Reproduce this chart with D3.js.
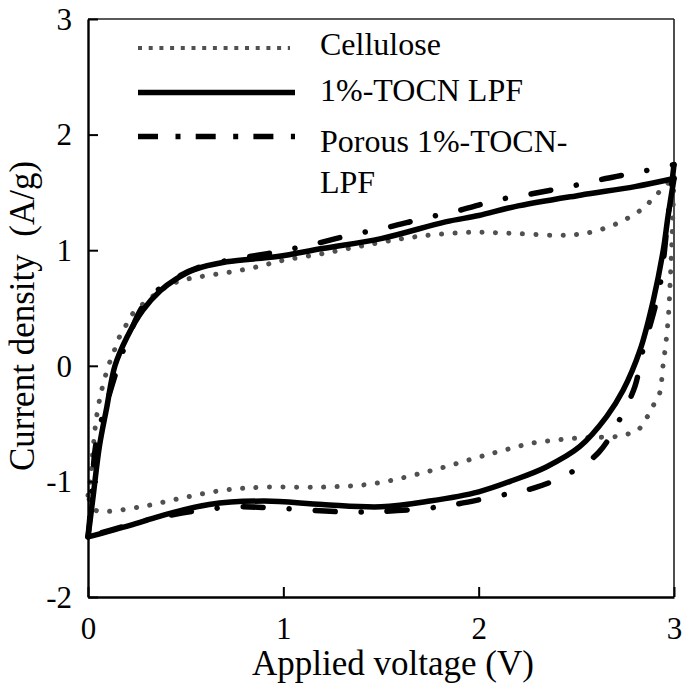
<!DOCTYPE html>
<html><head><meta charset="utf-8">
<script src="https://cdn.jsdelivr.net/npm/d3@7"></script>
<style>body{margin:0;background:#fff}svg{display:block}</style>
</head><body>
<script>
// ---- data ----
const xTicks = [0, 1, 2, 3];
const yTicks = [-2, -1, 0, 1, 2, 3];
const seriesNames = ["Cellulose", "1%-TOCN LPF", "Porous 1%-TOCN-LPF"];

// forward (upper) scan 0 -> 3 V and reverse (lower) scan 3 -> 0 V
const celluloseUpV = [0,0.01,0.027,0.044,0.07,0.106,0.132,0.157,0.19,0.224,0.275,0.327,0.386,0.455,0.52,0.59,0.726,0.863,1.0,1.2,1.41,1.61,1.75,1.96,2.18,2.45,2.585,2.72,2.84,2.894,2.945,3.0];
const celluloseUpI = [-1.12,-1.02,-0.70,-0.44,-0.21,0.005,0.12,0.236,0.336,0.44,0.524,0.596,0.668,0.726,0.755,0.775,0.81,0.855,0.913,0.97,1.04,1.10,1.13,1.155,1.145,1.13,1.16,1.24,1.36,1.45,1.54,1.63];
const celluloseDnV = [3.0,2.992,2.986,2.98,2.973,2.96,2.943,2.926,2.89,2.858,2.815,2.755,2.687,2.55,2.41,2.27,2.13,2.0,1.75,1.46,1.187,0.9,0.695,0.49,0.285,0.078,0.03,0.0];
const celluloseDnI = [1.63,1.2,0.94,0.71,0.47,0.22,-0.01,-0.24,-0.355,-0.456,-0.557,-0.594,-0.615,-0.62,-0.64,-0.67,-0.73,-0.79,-0.91,-1.02,-1.05,-1.05,-1.076,-1.14,-1.215,-1.26,-1.24,-1.12];

const tocnUpV = [0,0.01,0.027,0.058,0.096,0.138,0.2,0.28,0.37,0.45,0.54,0.71,0.97,1.2,1.5,1.83,2.0,2.18,2.52,2.8,3.0];
const tocnUpI = [-1.48,-1.35,-1.12,-0.70,-0.36,0,0.25,0.48,0.65,0.75,0.83,0.9,0.945,1.015,1.10,1.245,1.30,1.375,1.476,1.55,1.62];
const tocnDnV = [3.0,2.97,2.945,2.894,2.826,2.74,2.655,2.517,2.346,2.177,2.0,1.75,1.5,1.2,0.9,0.62,0.37,0.215,0];
const tocnDnI = [1.62,1.3,1.0,0.567,0.135,-0.21,-0.44,-0.70,-0.875,-0.99,-1.09,-1.17,-1.22,-1.2,-1.17,-1.2,-1.30,-1.38,-1.48];

const porousUpV = [0,0.01,0.044,0.1,0.147,0.198,0.294,0.42,0.573,0.777,0.966,1.15,1.34,1.53,1.715,1.905,2.09,2.28,2.465,2.65,2.824,3.0];
const porousUpI = [-1.48,-1.3,-0.64,-0.3,-0.04,0.21,0.55,0.73,0.855,0.93,0.985,1.05,1.13,1.196,1.274,1.346,1.432,1.49,1.55,1.62,1.677,1.74];
const porousDnV = [3.0,2.97,2.93,2.894,2.84,2.8,2.72,2.614,2.465,2.285,2.09,1.8,1.5,1.32,0.95,0.76,0.57,0.37,0.2,0];
const porousDnI = [1.74,1.3,0.71,0.45,0.13,-0.177,-0.47,-0.75,-0.93,-1.056,-1.128,-1.22,-1.26,-1.264,-1.23,-1.22,-1.25,-1.31,-1.38,-1.48];

// ---- chart ----
const W = 685, H = 689;
const m = {l: 88, r: 11, t: 19, b: 92};
const SERIF = "Liberation Serif";
const svg = d3.select("body").append("svg").attr("width", W).attr("height", H).attr("font-family", SERIF);
const x = d3.scaleLinear().domain([0, 3]).range([m.l, W - m.r]);
const y = d3.scaleLinear().domain([-2, 3]).range([H - m.b, m.t]);

// frame top/right
svg.append("line").attr("x1", x(0)).attr("x2", x(3)).attr("y1", y(3)).attr("y2", y(3)).attr("stroke", "#222").attr("stroke-width", 1.6);
svg.append("line").attr("x1", x(3)).attr("x2", x(3)).attr("y1", y(3)).attr("y2", y(-2)).attr("stroke", "#222").attr("stroke-width", 1.6);

const zip = (a, b) => a.map((v, k) => [v, b[k]]);
const line = d3.line().x(d => x(d[0])).y(d => y(d[1])).curve(d3.curveCatmullRom.alpha(0.5));

function draw(parts, style) {
  parts.forEach(p => {
    const path = svg.append("path").attr("d", line(p)).attr("fill", "none");
    Object.entries(style).forEach(([k, v]) => path.attr(k, v));
  });
}
draw([zip(celluloseUpV, celluloseUpI), zip(celluloseDnV, celluloseDnI)],
  {"stroke": "#505050", "stroke-width": 5, "stroke-linecap": "round", "stroke-dasharray": "0.1,13.4"});
draw([zip(tocnUpV, tocnUpI), zip(tocnDnV, tocnDnI)],
  {"stroke": "#000", "stroke-width": 5.5, "stroke-linecap": "round", "stroke-linejoin": "round"});
draw([zip(porousUpV, porousUpI), zip(porousDnV, porousDnI)],
  {"stroke": "#000", "stroke-width": 5.5, "stroke-linecap": "round", "stroke-dasharray": "20,26,0.1,26"});

// axes
const fs = 31;
const xAxis = svg.append("g").attr("transform", `translate(0,${y(-2)})`)
  .call(d3.axisBottom(x).tickValues(xTicks).tickFormat(d3.format("d")).tickSizeInner(-10).tickSizeOuter(0).tickPadding(14));
const yAxis = svg.append("g").attr("transform", `translate(${x(0)},0)`)
  .call(d3.axisLeft(y).tickValues(yTicks).tickFormat(d3.format("d")).tickSizeInner(-10).tickSizeOuter(0).tickPadding(16));
[xAxis, yAxis].forEach(g => {
  g.attr("font-family", SERIF).attr("font-size", fs);
  g.select(".domain").attr("stroke", "#000").attr("stroke-width", 2.4);
  g.selectAll(".tick line").attr("stroke", "#000").attr("stroke-width", 2);
  g.selectAll(".tick text").attr("font-family", SERIF).attr("font-size", fs).attr("fill", "#000");
});
xAxis.selectAll(".tick text").attr("dy", "0.9em");
yAxis.selectAll(".tick text").attr("dy", "0.33em").text(d => d < 0 ? "-" + Math.abs(d) : d);

// titles
svg.append("text").attr("x", 393).attr("y", 675).attr("text-anchor", "middle").attr("font-size", 35)
  .attr("font-family", SERIF).text("Applied voltage (V)");
svg.append("text").attr("transform", "translate(34,316) rotate(-90)").attr("text-anchor", "middle")
  .attr("font-size", 35).attr("font-family", SERIF).style("white-space", "pre")
  .text("Current density  (A/g)");

// legend
const lg = svg.append("g");
lg.append("line").attr("x1", 138).attr("x2", 290).attr("y1", 48).attr("y2", 48)
  .attr("stroke", "#505050").attr("stroke-width", 4).attr("stroke-dasharray", "4,6.7");
lg.append("line").attr("x1", 138).attr("x2", 295).attr("y1", 92.5).attr("y2", 92.5)
  .attr("stroke", "#000").attr("stroke-width", 5.5);
lg.append("line").attr("x1", 138).attr("x2", 295).attr("y1", 136.5).attr("y2", 136.5)
  .attr("stroke", "#000").attr("stroke-width", 5.5).attr("stroke-dasharray", "20,17.5,5,15.2");
const lfs = 32;
[["Cellulose", 55], ["1%-TOCN LPF", 101], ["Porous 1%-TOCN-", 152], ["LPF", 193]].forEach(([t, yy]) =>
  lg.append("text").attr("x", 320).attr("y", yy).attr("font-size", lfs).attr("font-family", SERIF).text(t));
</script>
</body></html>
